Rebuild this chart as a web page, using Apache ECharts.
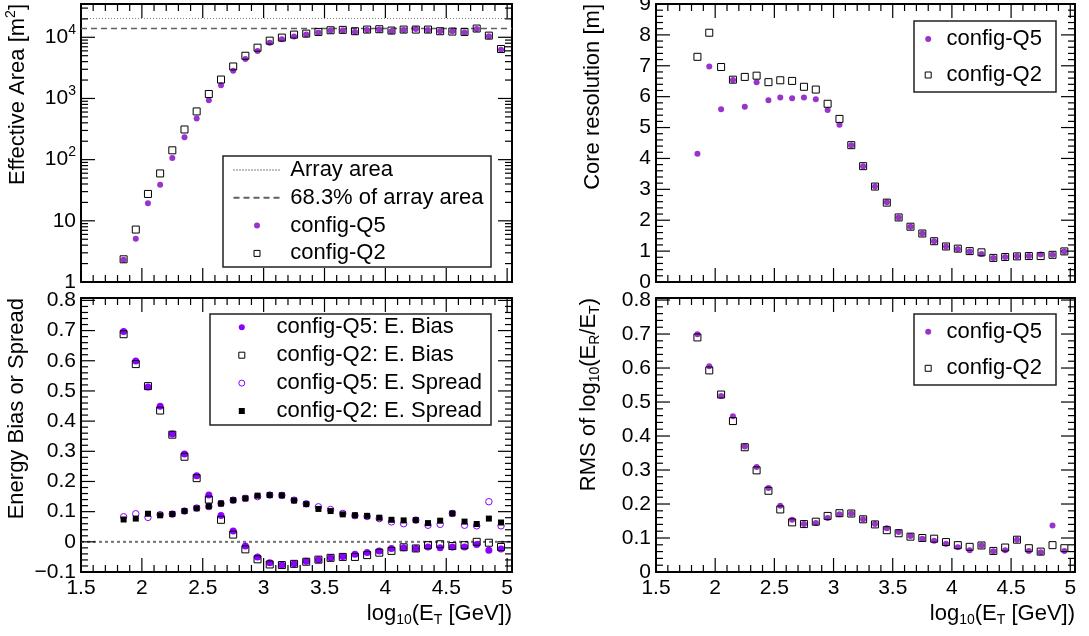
<!DOCTYPE html>
<html><head><meta charset="utf-8">
<script src="https://cdn.jsdelivr.net/npm/echarts@6/dist/echarts.min.js"></script>
<style>html,body{margin:0;padding:0;background:#fff}#c{width:1089px;height:636px}</style>
</head><body><div id="c"></div>
<script>
// ---------------- data ----------------
const energy = [1.85,1.95,2.05,2.15,2.25,2.35,2.45,2.55,2.65,2.75,2.85,2.95,3.05,3.15,3.25,3.35,3.45,3.55,3.65,3.75,3.85,3.95,4.05,4.15,4.25,4.35,4.45,4.55,4.65,4.75,4.85,4.95];
const areaQ5 = [2.3,5.1,19.3,38.7,106,232,471,932,1644,2832,4406,5960,8170,9270,10260,11060,11930,12880,12880,12230,13210,13370,12560,13210,13700,13210,12560,12560,11930,13700,10380,6270];
const areaQ2 = [2.35,7.2,27.5,59.5,142,311,614,1184,2038,3333,4989,6764,8810,9890,11060,11490,12230,13030,13210,12560,13370,13540,12880,13370,13370,13370,12560,12390,12230,13890,10650,6430];
const arrayArea = 20300;
const arrayArea683 = 13865;
const coreQ5 = [4.15,6.98,5.59,6.54,5.67,6.47,5.88,5.97,5.95,5.97,5.92,5.57,5.09,4.43,3.75,3.09,2.58,2.09,1.79,1.57,1.32,1.15,1.07,0.99,0.91,0.78,0.81,0.83,0.84,0.89,0.88,0.99];
const coreQ2 = [7.29,8.07,6.96,6.55,6.64,6.68,6.47,6.53,6.51,6.32,6.23,5.77,5.28,4.43,3.75,3.09,2.57,2.09,1.79,1.57,1.32,1.15,1.08,1.00,0.96,0.78,0.81,0.83,0.84,0.84,0.88,0.99];
const biasQ5 = [0.697,0.599,0.513,0.449,0.357,0.291,0.219,0.155,0.087,0.036,-0.014,-0.050,-0.069,-0.077,-0.073,-0.064,-0.059,-0.053,-0.049,-0.041,-0.035,-0.030,-0.022,-0.020,-0.022,-0.017,-0.020,-0.017,-0.017,-0.009,-0.028,-0.024];
const biasQ2 = [0.688,0.589,0.516,0.435,0.355,0.282,0.211,0.140,0.073,0.024,-0.025,-0.058,-0.075,-0.077,-0.073,-0.066,-0.059,-0.053,-0.050,-0.050,-0.044,-0.036,-0.030,-0.018,-0.022,-0.011,-0.008,-0.014,-0.011,0.000,-0.003,-0.017];
const spreadQ5 = [0.083,0.093,0.081,0.090,0.092,0.102,0.112,0.117,0.127,0.138,0.144,0.150,0.155,0.154,0.138,0.126,0.116,0.107,0.094,0.087,0.084,0.077,0.066,0.060,0.072,0.055,0.058,0.094,0.055,0.053,0.133,0.053];
const spreadQ2 = [0.074,0.077,0.093,0.088,0.092,0.102,0.111,0.118,0.127,0.138,0.144,0.153,0.155,0.154,0.137,0.125,0.109,0.102,0.091,0.088,0.086,0.080,0.073,0.071,0.072,0.062,0.070,0.094,0.067,0.059,0.077,0.064];
const rmsQ5 = [0.699,0.605,0.518,0.458,0.369,0.309,0.247,0.195,0.154,0.141,0.144,0.159,0.170,0.172,0.155,0.141,0.129,0.118,0.106,0.098,0.092,0.083,0.073,0.064,0.078,0.061,0.064,0.095,0.062,0.058,0.137,0.062];
const rmsQ2 = [0.690,0.593,0.522,0.444,0.367,0.299,0.239,0.184,0.146,0.141,0.148,0.165,0.173,0.172,0.155,0.140,0.123,0.114,0.104,0.100,0.098,0.088,0.079,0.074,0.078,0.062,0.072,0.095,0.070,0.060,0.079,0.070];

// tick labels
const xTicks = [1.5,2,2.5,3,3.5,4,4.5,5];
const areaTicks = [1,10,100,1000,10000];
const coreTicks = [0,1,2,3,4,5,6,7,8,9];
const biasTicks = [-0.1,0,0.1,0.2,0.3,0.4,0.5,0.6,0.7,0.8];
const rmsTicks = [0,0.1,0.2,0.3,0.4,0.5,0.6,0.7,0.8];

// ---------------- helpers ----------------
const FONT = '"Liberation Sans", Arial, Helvetica, sans-serif';
const VIOLET = '#8c00ff', ORCHID = '#9933cc', NONE = 'rgba(0,0,0,0)';
const SQ = 'path://M0,0L10,0L10,10L0,10Z';
const MAJOR = 14, MINOR = 7, TW = 1.2;
const X_MIN = 1.5, X_MAX = 5.04;
function minorLin(a, b, step, skip) { // minor tick positions between major ticks
  const out = []; const n = Math.round((b - a) / step);
  for (let i = 0; i <= n; i++) { if (i % skip) out.push(+(a + i * step).toFixed(4)); }
  return out;
}
const xMinor = minorLin(1.5, 5.0, 0.1, 5);
const areaMinor = [];
areaTicks.forEach(d => { for (let k = 2; k <= 9; k++) if (d * k < 35000) areaMinor.push(d * k); });
const coreMinor = minorLin(0, 9, 0.2, 5);
const biasMinor = minorLin(-0.1, 0.8, 0.02, 5);
const rmsMinor = minorLin(0, 0.8, 0.02, 5);

const grids = [
  {left:81, top:4, width:431, height:278},
  {left:656, top:4, width:419, height:278},
  {left:81, top:298, width:431, height:274},
  {left:656, top:298, width:419, height:274}
];
const yDefs = [
  {type:'log', min:1, max:35000, major:areaTicks, minor:areaMinor,
   label:{formatter: v => v < 5 ? '1' : (v < 50 ? '10' : '10{sup|' + Math.round(Math.log10(v)) + '}'),
          rich:{sup:{fontSize:14, fontFamily:FONT, color:'#000', padding:[0,0,15,0]}}}},
  {type:'value', min:0, max:9, major:coreTicks, minor:coreMinor, label:{}},
  {type:'value', min:-0.1, max:0.808, major:biasTicks, minor:biasMinor,
   label:{formatter: v => v < 0 ? '\u2212' + (-v) : '' + v}},
  {type:'value', min:0, max:0.806, major:rmsTicks, minor:rmsMinor, label:{}}
];
function mkAxis(g, pos, type, min, max, labelValues, label) {
  const ax = {
    gridIndex:g, type:type, position:pos, min:min, max:max,
    axisLine:{show:true, onZero:false, lineStyle:{color:'#000', width:2}},
    axisTick:{show:false}, minorTick:{show:false}, splitLine:{show:false},
    axisLabel: label ? Object.assign({show:true, customValues:labelValues, color:'#000', fontSize:21, fontFamily:FONT, margin:5}, label) : {show:false}
  };
  if (type === 'log') ax.logBase = 10;
  return ax;
}
const xAxes = [], yAxes = [];
for (let g = 0; g < 4; g++) {
  const d = yDefs[g];
  xAxes.push(mkAxis(g, 'bottom', 'value', X_MIN, X_MAX, xTicks, g >= 2 ? {margin:6} : null));
  xAxes.push(mkAxis(g, 'top', 'value', X_MIN, X_MAX, xTicks, null));
  yAxes.push(mkAxis(g, 'left', d.type, d.min, d.max, d.major, d.label));
  yAxes.push(mkAxis(g, 'right', d.type, d.min, d.max, d.major, null));
}

const pts = ys => energy.map((x, i) => [x, ys[i]]);
function scatter(g, name, ys, symbol, size, fill, border, bw) {
  return {type:'scatter', name:name, xAxisIndex:2*g, yAxisIndex:2*g, data:pts(ys),
    symbol:symbol, symbolSize:size, silent:true, z:4,
    itemStyle:{color:fill, borderColor:border, borderWidth:bw, opacity:1}};
}
function hline(g, name, level, color, width, dash) {
  return {type:'line', name:name, xAxisIndex:2*g, yAxisIndex:2*g, color:color,
    data:[[X_MIN, level],[X_MAX, level]], symbol:'none', showSymbol:false, silent:true, z:2,
    lineStyle:{color:color, width:width, type:dash}};
}
// inward frame ticks: thin filled marks placed at tick values through the axes' scales
// (explicitly named so that the legend components do not filter them out)
let tickId = 0;
function tickMarks(g, data, w, h, ox, oy) {
  tickId++;
  return {type:'scatter', name:'frame-ticks-' + tickId, xAxisIndex:2*g, yAxisIndex:2*g, data:data, symbol:'rect',
    symbolSize:[w, h], symbolOffset:[ox, oy], silent:true, clip:false, z:3,
    itemStyle:{color:'#000', borderWidth:0, opacity:1}};
}
const series = [
  hline(0, 'Array area', arrayArea, '#808080', 1, [1,2]),
  hline(0, '68.3% of array area', arrayArea683, '#606060', 1.5, [6,4]),
  scatter(0, 'config-Q5', areaQ5, 'circle', 6, ORCHID, ORCHID, 0),
  scatter(0, 'config-Q2', areaQ2, 'rect', 7, NONE, '#000', 1),
  scatter(1, 'config-Q5', coreQ5, 'circle', 6, ORCHID, ORCHID, 0),
  scatter(1, 'config-Q2', coreQ2, 'rect', 7, NONE, '#000', 1),
  hline(2, 'zero', 0, '#707070', 2, [3,3]),
  scatter(2, 'config-Q5: E. Bias', biasQ5, 'circle', 7, VIOLET, VIOLET, 0),
  scatter(2, 'config-Q2: E. Bias', biasQ2, 'rect', 7, NONE, '#000', 1),
  scatter(2, 'config-Q5: E. Spread', spreadQ5, 'circle', 6.5, NONE, VIOLET, 1),
  scatter(2, 'config-Q2: E. Spread', spreadQ2, 'rect', 6, '#000', '#000', 0),
  scatter(3, 'config-Q5', rmsQ5, 'circle', 6, ORCHID, ORCHID, 0),
  scatter(3, 'config-Q2', rmsQ2, 'rect', 7, NONE, '#000', 1)
];
for (let g = 0; g < 4; g++) {
  const d = yDefs[g];
  series.push(tickMarks(g, xTicks.map(v => [v, d.min]), TW, MAJOR, 0, -MAJOR / 2));
  series.push(tickMarks(g, xMinor.map(v => [v, d.min]), TW, MINOR, 0, -MINOR / 2));
  series.push(tickMarks(g, xTicks.map(v => [v, d.max]), TW, MAJOR, 0, MAJOR / 2));
  series.push(tickMarks(g, xMinor.map(v => [v, d.max]), TW, MINOR, 0, MINOR / 2));
  series.push(tickMarks(g, d.major.map(v => [X_MIN, v]), MAJOR, TW, MAJOR / 2, 0));
  series.push(tickMarks(g, d.minor.map(v => [X_MIN, v]), MINOR, TW, MINOR / 2, 0));
  series.push(tickMarks(g, d.major.map(v => [X_MAX, v]), MAJOR, TW, -MAJOR / 2, 0));
  series.push(tickMarks(g, d.minor.map(v => [X_MAX, v]), MINOR, TW, -MINOR / 2, 0));
}

function legend(left, top, itemWidth, gap, pad, items) {
  return {show:true, orient:'vertical', left:left, top:top, padding:0, itemGap:gap,
    itemWidth:itemWidth, itemHeight:6, selectedMode:false, symbolKeepAspect:true,
    textStyle:{fontSize:22, fontFamily:FONT, color:'#000', lineHeight:22, padding:[0,0,0,pad]},
    data:items};
}
const dot = (n, c) => ({name:n, icon:'circle', itemStyle:{color:c, borderWidth:0}});
const sq = n => ({name:n, icon:SQ, itemStyle:{color:NONE, borderColor:'#000', borderWidth:1}});
const lineItem = n => ({name:n, itemStyle:{opacity:0, color:NONE, borderWidth:0}});
const legends = [
  legend(232.5, 159, 47, 5.8, 4.8, [lineItem('Array area'), lineItem('68.3% of array area'), dot('config-Q5', ORCHID), sq('config-Q2')]),
  legend(924.7, 28, 14, 14, 6.3, [dot('config-Q5', ORCHID), sq('config-Q2')]),
  legend(238.3, 316.3, 14, 5.9, 22.7, [
    {name:'config-Q5: E. Bias', icon:'circle', itemStyle:{color:VIOLET, borderWidth:0}},
    sq('config-Q2: E. Bias'),
    {name:'config-Q5: E. Spread', icon:'circle', itemStyle:{color:NONE, borderColor:VIOLET, borderWidth:1}},
    {name:'config-Q2: E. Spread', icon:SQ, itemStyle:{color:'#000', borderWidth:0}}]),
  legend(924.7, 320.7, 14, 14.6, 6.3, [dot('config-Q5', ORCHID), sq('config-Q2')])
];

const boxes = [[223,156,268,111],[914,21,142,71],[210,314,281,111],[914,314,142,71]];
const sub = {fontSize:14, fontFamily:FONT, color:'#000', padding:[12,0,0,0]};
const sup = {fontSize:14, fontFamily:FONT, color:'#000', padding:[0,0,14,0]};
function title(x, y, rot, text) {
  return {type:'text', x:x, y:y, rotation:rot, silent:true, z:10,
    style:{text:text, fontSize:22, fontFamily:FONT, fill:'#000', align:'right', verticalAlign:'middle',
      rich:{sub:sub, sup:sup}}};
}
const graphics = boxes.map(b => ({type:'rect', shape:{x:b[0], y:b[1], width:b[2], height:b[3]},
  style:{fill:'none', stroke:'#222', lineWidth:1.5}, silent:true, z:1}));
graphics.push(title(18, 4, Math.PI/2, 'Effective Area [m{sup|2}]'));
graphics.push(title(593, 4, Math.PI/2, 'Core resolution [m]'));
graphics.push(title(17, 298, Math.PI/2, 'Energy Bias or Spread'));
graphics.push(title(589, 298, Math.PI/2, 'RMS of log{sub|10}(E{sub|R}/E{sub|T})'));
graphics.push(title(512, 614, 0, 'log{sub|10}(E{sub|T} [GeV])'));
graphics.push(title(1075, 614, 0, 'log{sub|10}(E{sub|T} [GeV])'));

const chart = echarts.init(document.getElementById('c'), null, {renderer:'canvas'});
chart.setOption({
  animation:false, backgroundColor:'#fff',
  grid: grids.map(g => Object.assign({containLabel:false, show:false,
    outerBounds:{left:-300, top:-300, right:-300, bottom:-300}}, g)),
  xAxis: xAxes, yAxis: yAxes, series: series, legend: legends, graphic: graphics
});
</script></body></html>
